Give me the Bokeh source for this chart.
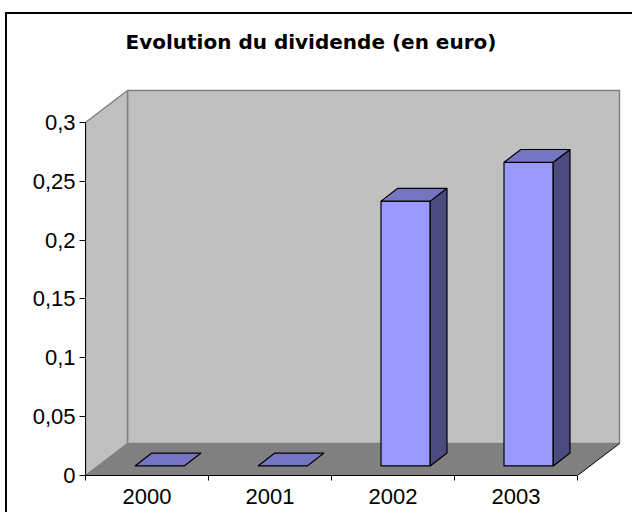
from bokeh.plotting import figure
from bokeh.models import FixedTicker, Range1d, Title
from bokeh.embed import file_html
from bokeh.resources import INLINE

# ---- data ----
years = ["2000", "2001", "2002", "2003"]
dividends = [0.0, 0.0, 0.225, 0.258]
y_ticks = [0, 0.05, 0.1, 0.15, 0.2, 0.25, 0.3]
y_tick_labels = ["0", "0,05", "0,1", "0,15", "0,2", "0,25", "0,3"]
title_text = "Evolution du dividende (en euro)"

# ---- layout / 3D style parameters ----
W, H = 627, 500
LEFT, RIGHT, TOP, BOTTOM = 78, 0, 72, 39
PX_X = 123.0      # pixels per category
PX_Y = 1176.7     # pixels per value unit
DX = 42 / PX_X    # depth vector (data units)
DY = 32 / PX_Y
F1, F2 = 0.3, 0.7  # bar depth span (fraction of floor depth)
BAR_L, BAR_R = 0.3, 0.7
YMAX = 0.3
n = len(years)

p = figure(width=W, height=H, output_backend="svg", toolbar_location=None,
           x_range=Range1d(0, (W - LEFT - RIGHT) / PX_X),
           y_range=Range1d(0, (H - TOP - BOTTOM) / PX_Y),
           min_border_left=LEFT, min_border_right=RIGHT,
           min_border_top=TOP, min_border_bottom=BOTTOM)
p.styles = {"margin-left": "7px", "margin-top": "14px",
            "box-shadow": "-2px -2px 0px 0px #000"}
p.outline_line_color = None
p.background_fill_color = "white"
p.border_fill_color = "white"
p.grid.visible = False

# walls
p.quad(left=[DX], right=[n + DX], bottom=[DY], top=[YMAX + DY],
       fill_color="#C0C0C0", line_color="#808080", line_width=1.5)
p.patch([0, DX, DX, 0], [0, DY, YMAX + DY, YMAX],
        fill_color="#C0C0C0", line_color="#808080", line_width=1.5)
# floor
p.patch([0, n, n + DX, DX], [0, 0, DY, DY],
        fill_color="#808080", line_color=None)
p.segment(x0=[n], y0=[0], x1=[n + DX], y1=[DY], line_color="black", line_width=1)

# bars
fx, fy, tx, ty, sx, sy = [], [], [], [], [], []
dD = F2 - F1
for i, v in enumerate(dividends):
    xl = i + BAR_L + F1 * DX
    xr = i + BAR_R + F1 * DX
    yb = F1 * DY
    yt = v + F1 * DY
    fx.append([xl, xr, xr, xl]); fy.append([yb, yb, yt, yt])
    tx.append([xl, xr, xr + dD * DX, xl + dD * DX]); ty.append([yt, yt, yt + dD * DY, yt + dD * DY])
    sx.append([xr, xr + dD * DX, xr + dD * DX, xr]); sy.append([yb, yb + dD * DY, yt + dD * DY, yt])

nz = [i for i, v in enumerate(dividends) if v > 0]
p.patches([fx[i] for i in nz], [fy[i] for i in nz], fill_color="#9999FF", line_color="black", line_width=1.2)
p.patches([sx[i] for i in nz], [sy[i] for i in nz], fill_color="#4B4B80", line_color="black", line_width=1.2)
p.patches(tx, ty, fill_color="#7575C4", line_color="black", line_width=1.2)

# axes
FONT = "Liberation Sans"
ya = p.yaxis[0]
ya.ticker = FixedTicker(ticks=y_ticks, minor_ticks=[])
ya.major_label_overrides = {t: l for t, l in zip(y_ticks, y_tick_labels)}
ya.bounds = (0, YMAX)
ya.axis_line_color = "black"
ya.major_tick_line_color = "black"
ya.major_tick_out = 6
ya.major_tick_in = 0
ya.major_label_standoff = 4
ya.major_label_text_font = FONT
ya.major_label_text_font_size = "22px"
ya.major_label_text_color = "black"

xa = p.xaxis[0]
centers = [i + 0.5 for i in range(n)]
xa.ticker = FixedTicker(ticks=centers, minor_ticks=list(range(n + 1)))
xa.major_label_overrides = {c: y for c, y in zip(centers, years)}
xa.bounds = (0, n)
xa.axis_line_color = "black"
xa.major_tick_out = 0
xa.major_tick_in = 0
xa.minor_tick_out = 5
xa.minor_tick_in = 0
xa.minor_tick_line_color = "black"
xa.major_label_standoff = 8
xa.major_label_text_font = FONT
xa.major_label_text_font_size = "22px"
xa.major_label_text_color = "black"

# spacer between title and plot area
p.add_layout(Title(text=" ", text_font_size="1px", standoff=30), "above")

# title
p.title.text = title_text
p.title.text_font = "DejaVu Sans"
p.title.text_font_size = "20px"
p.title.text_font_style = "bold"
p.title.text_color = "black"
p.title.align = "left"
p.title.offset = 40
p.title.standoff = 0

open("out.html", "w").write(file_html(p, INLINE))
